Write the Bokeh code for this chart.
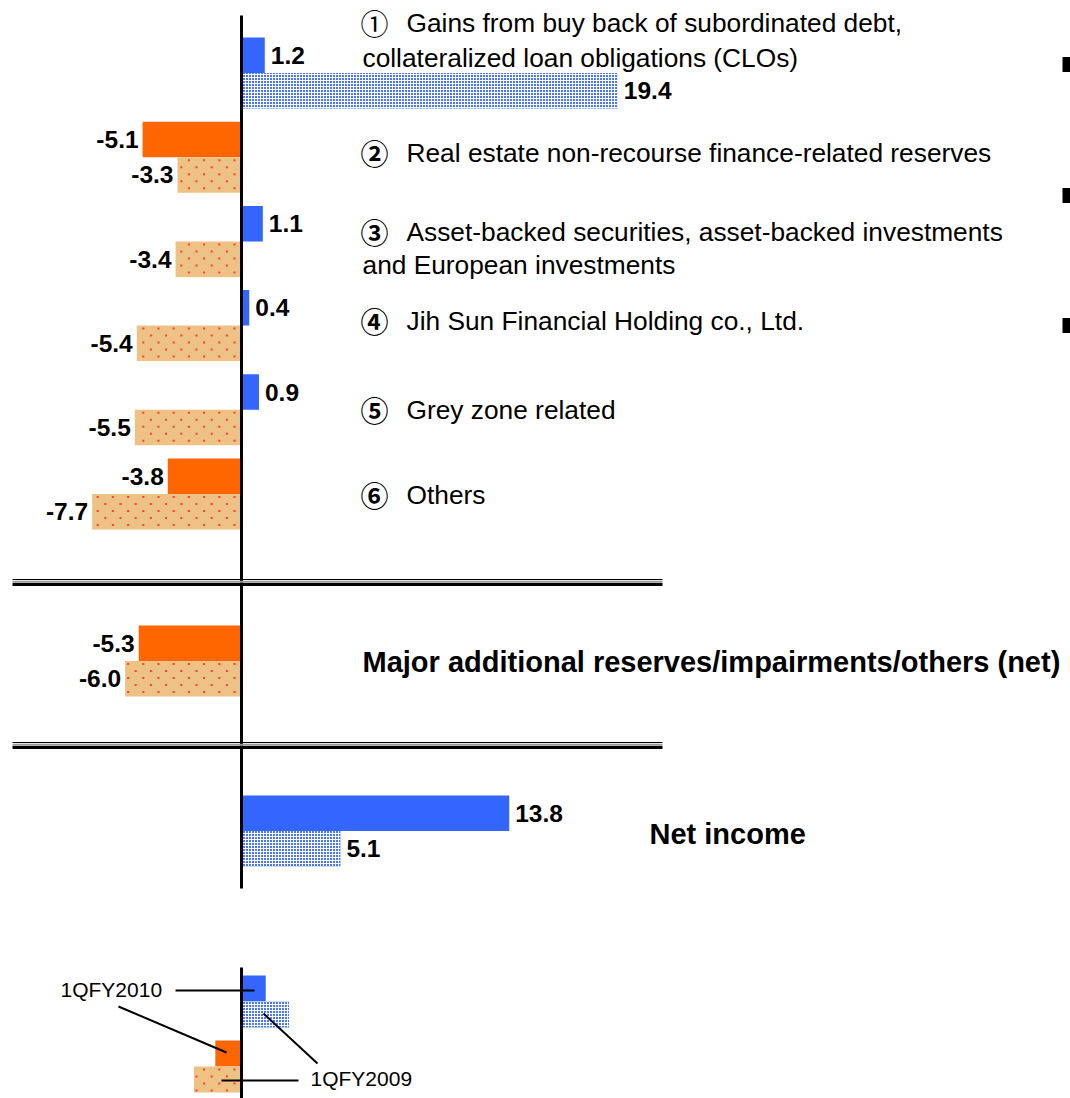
from bokeh.plotting import figure
from bokeh.models import Range1d, ColumnDataSource
from bokeh.core.properties import value
from bokeh.embed import file_html
from bokeh.resources import INLINE

# ---- data (billions of yen) ----
item_marks = ["\u2460", "\u2461", "\u2462", "\u2463", "\u2464", "\u2465"]
item_lines = [
    ["Gains from buy back of subordinated debt,", "collateralized loan obligations (CLOs)"],
    ["Real estate non-recourse finance-related reserves"],
    ["Asset-backed securities, asset-backed investments", "and European investments"],
    ["Jih Sun Financial Holding co., Ltd."],
    ["Grey zone related"],
    ["Others"],
]
q1_fy2010 = [1.2, -5.1, 1.1, 0.4, 0.9, -3.8]
q1_fy2009 = [19.4, -3.3, -3.4, -5.4, -5.5, -7.7]

summary_names = ["Major additional reserves/impairments/others (net)", "Net income"]
summary_fy2010 = [-5.3, 13.8]
summary_fy2009 = [-6.0, 5.1]

period_names = ["1QFY2010", "1QFY2009"]
key_lengths = [1.25, 2.45, -1.35, -2.45]   # bar lengths used in the key

# ---- styling / layout ----
W, H = 1070, 1098
PX = 19.4          # pixels per billion yen
X0 = 241           # pixel column of the zero line
BLUE = "#3366FF"
ORANGE = "#FF6600"
TAN = "#EEC283"
SPECK = "#FF3B3B"
FONT = "Liberation Sans"

# fine white grid over blue reads as the light "screen" fill
blue_pattern = dict(fill_color="#4A76FF", hatch_pattern="cross", hatch_color="white",
                    hatch_alpha=1.0, hatch_scale=3, hatch_weight=1)


def px(x):
    """Horizontal pixel position -> data units."""
    return (x - X0) / PX


p = figure(width=W, height=H, x_range=Range1d(px(0), px(W)), y_range=Range1d(H, 0),
           output_backend="svg", toolbar_location=None, min_border=0,
           x_axis_location=None, y_axis_location=None)
p.grid.visible = False
p.outline_line_color = None
p.background_fill_color = "white"

speck_x, speck_y = [], []


def add_specks(left, right, top, height):
    """Staggered red specks filling a tan bar (left/right in data units)."""
    x_lo, x_hi = X0 + left * PX, X0 + right * PX
    y = top + 3
    row = 0
    while y < top + height - 1:
        xp = 6 + (7.6 if row % 2 else 0)
        while xp < x_hi - 1:
            if xp > x_lo + 1:
                speck_x.append(px(xp))
                speck_y.append(y)
            xp += 15.2
        y += 7
        row += 1


BAR_H = 35.5
group_tops = [37 + i * 84.2 for i in range(len(q1_fy2010))] + [625, 795]
vals_2010 = q1_fy2010 + summary_fy2010
vals_2009 = q1_fy2009 + summary_fy2009

rows = {"y": [], "v": [], "period": []}
for top, a, b in zip(group_tops, vals_2010, vals_2009):
    rows["y"] += [top + BAR_H / 2, top + BAR_H * 1.5]
    rows["v"] += [a, b]
    rows["period"] += [0, 1]


def subset(cond):
    d = {"y": [], "v": []}
    for y, v, per in zip(rows["y"], rows["v"], rows["period"]):
        if cond(v, per):
            d["y"].append(y)
            d["v"].append(v)
    return ColumnDataSource(d)


# solid bars for the current period
p.hbar(y="y", height=BAR_H, left=0, right="v", source=subset(lambda v, k: k == 0 and v >= 0),
       fill_color=BLUE, line_color=None)
p.hbar(y="y", height=BAR_H, left=0, right="v", source=subset(lambda v, k: k == 0 and v < 0),
       fill_color=ORANGE, line_color=None)
# patterned bars for the prior-year period
p.hbar(y="y", height=BAR_H, left=0, right="v", source=subset(lambda v, k: k == 1 and v >= 0),
       line_color=None, **blue_pattern)
neg_prior = subset(lambda v, k: k == 1 and v < 0)
p.hbar(y="y", height=BAR_H, left=0, right="v", source=neg_prior, fill_color=TAN, line_color=None)
for y, v in zip(neg_prior.data["y"], neg_prior.data["v"]):
    add_specks(v, 0, y - BAR_H / 2, BAR_H)

# value labels
lab = {"x": [], "y": [], "t": [], "align": [], "dx": []}
for y, v in zip(rows["y"], rows["v"]):
    lab["x"].append(v)
    lab["y"].append(y)
    lab["t"].append(f"{v:.1f}")
    lab["align"].append("left" if v >= 0 else "right")
    lab["dx"].append(6 if v >= 0 else -4)
p.text(x="x", y="y", text="t", source=ColumnDataSource(lab), text_align="align", x_offset="dx",
       text_baseline="middle", text_font=value(FONT), text_font_style="bold",
       text_font_size="24.5px", text_color="black")

# zero line and separators
p.segment(x0=0, y0=15, x1=0, y1=888, line_color="black", line_width=3)
for y_sep in (579, 742):
    p.segment(x0=px(12), y0=y_sep, x1=px(662), y1=y_sep, line_color="black", line_width=1)
    p.segment(x0=px(12), y0=y_sep + 2.2, x1=px(662), y1=y_sep + 2.2, line_color="#999999", line_width=2)
    p.segment(x0=px(12), y0=y_sep + 5, x1=px(662), y1=y_sep + 5, line_color="black", line_width=3)

# item descriptions
text_rows = {"x": [], "y": [], "t": []}
mark_rows = {"x": [], "y": [], "t": [], "style": []}
line_centres = [[22, 57], [152], [231, 264], [320], [409], [494]]
for k, (mark, lines, ys) in enumerate(zip(item_marks, item_lines, line_centres)):
    mark_rows["x"].append(px(360))
    mark_rows["y"].append(ys[0])
    mark_rows["t"].append(mark)
    mark_rows["style"].append("normal" if k == 0 else "bold")
    for j, (t, y) in enumerate(zip(lines, ys)):
        text_rows["x"].append(px(406 if j == 0 else 362))
        text_rows["y"].append(y)
        text_rows["t"].append(t)
p.text(x="x", y="y", text="t", source=ColumnDataSource(mark_rows), text_baseline="middle",
       text_font=value("Noto Sans CJK JP"), text_font_style="style", text_font_size="28px",
       text_color="black")
p.text(x="x", y="y", text="t", source=ColumnDataSource(text_rows), text_baseline="middle",
       text_font=value(FONT), text_font_size="26.3px", text_color="black")

p.text(x=[px(362), px(649)], y=[661, 833], text=summary_names, text_baseline="middle",
       text_font=value(FONT), text_font_style="bold", text_font_size="29px", text_color="black")

# clipped bullets at the right edge
p.rect(x=[px(1066)] * 3, y=[64, 195, 325], width=8 / PX, height=15, fill_color="black", line_color=None)

# ---- key ----
key_tops = [975, 1001, 1040, 1066]
key_h = 26
p.hbar(y=[key_tops[0] + key_h / 2], height=key_h, left=0, right=[key_lengths[0]],
       fill_color=BLUE, line_color=None)
p.hbar(y=[key_tops[1] + key_h / 2], height=key_h, left=0, right=[key_lengths[1]],
       line_color=None, **blue_pattern)
p.hbar(y=[key_tops[2] + key_h / 2], height=key_h, left=0, right=[key_lengths[2]],
       fill_color=ORANGE, line_color=None)
p.hbar(y=[key_tops[3] + key_h / 2], height=key_h, left=0, right=[key_lengths[3]],
       fill_color=TAN, line_color=None)
add_specks(key_lengths[3], 0, key_tops[3], key_h)

p.scatter(x=speck_x, y=speck_y, marker="square", size=2, fill_color=SPECK, line_color=None)

p.segment(x0=0, y0=967, x1=0, y1=1098, line_color="black", line_width=3)

# leader lines of the key
p.segment(x0=[px(175), px(118), px(263), px(221)],
          y0=[990, 1006, 1013, 1080],
          x1=[px(254), px(226), px(317), px(298)],
          y1=[990, 1052, 1063, 1080], line_color="black", line_width=2)
p.text(x=[px(60), px(310)], y=[989, 1078], text=period_names, text_baseline="middle",
       text_font=value(FONT), text_font_size="21px", text_color="black")

open("out.html", "w").write(file_html(p, INLINE))
